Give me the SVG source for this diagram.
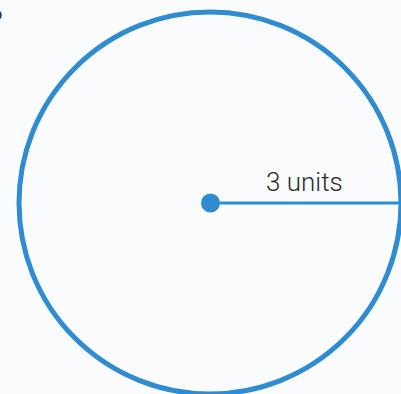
<svg xmlns="http://www.w3.org/2000/svg" width="401" height="394" viewBox="0 0 401 394">
<style>
.lbl{font-family:Roboto,"Liberation Sans",sans-serif;fill:#2b2b2b}
</style>
<rect width="401" height="394" fill="#f9fbfc"/>
<text class="lbl" x="-10" y="30" font-size="28" font-weight="300">?</text>
<g id="circle">
<circle cx="210" cy="203" r="191" fill="none" stroke="#2f8cd1" stroke-width="5"/>
</g>
<g id="connectors">
<line x1="210" y1="203" x2="401" y2="203" stroke="#2f8cd1" stroke-width="3"/>
</g>
<g id="center">
<circle cx="210.5" cy="203" r="9.5" fill="#2f8cd1"/>
</g>
<g id="label">
<text class="lbl" x="266" y="191" font-size="26" font-weight="300">3 units</text>
</g>
</svg>
